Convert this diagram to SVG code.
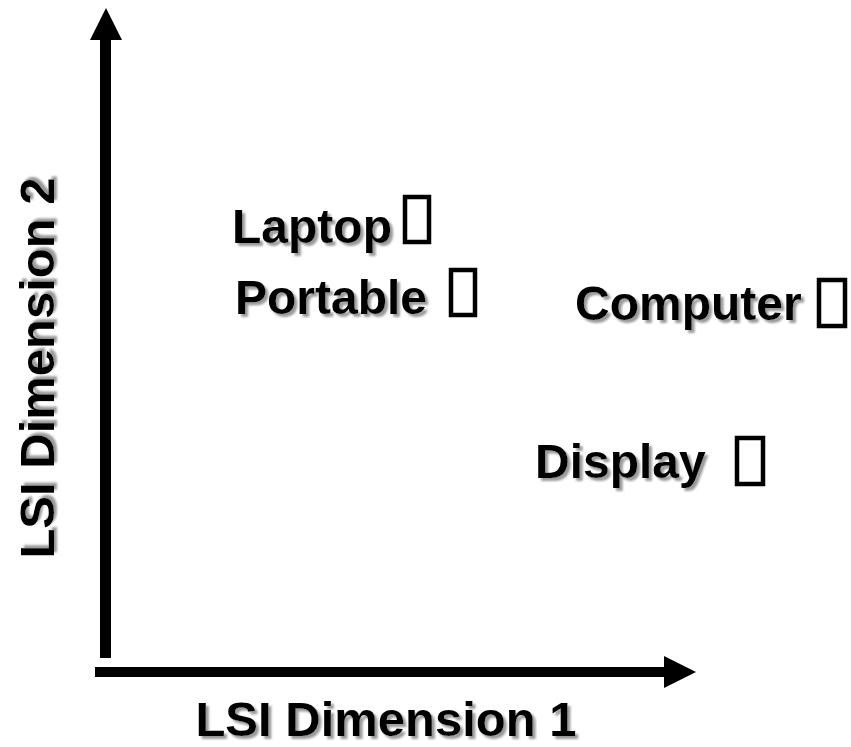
<svg xmlns="http://www.w3.org/2000/svg" width="851" height="747" viewBox="0 0 851 747">
  <defs>
    <filter id="shadow" x="-10%" y="-10%" width="130%" height="140%">
      <feGaussianBlur in="SourceAlpha" stdDeviation="0.8" result="b"/>
      <feOffset in="b" dx="2.5" dy="2.5" result="o"/>
      <feFlood flood-color="#9a9a9a"/>
      <feComposite in2="o" operator="in" result="s"/>
      <feMerge>
        <feMergeNode in="s"/>
        <feMergeNode in="SourceGraphic"/>
      </feMerge>
    </filter>
  </defs>
  <style>
    .lbl { font-family: "Liberation Sans", Arial, sans-serif; font-weight: bold; font-size: 48px; fill: #000; filter: url(#shadow); }
    .title { font-size: 49px; }
    .box { fill: none; stroke: #000; stroke-width: 4.5; }
    .axis { fill: #000; }
  </style>
  <rect width="851" height="747" fill="#fff"/>

  <!-- axes -->
  <g id="axes">
    <rect class="axis" x="100" y="38" width="11" height="620"/>
    <polygon class="axis" points="90,40 122,40 106,8"/>
    <rect class="axis" x="95" y="667" width="571" height="10"/>
    <polygon class="axis" points="664,656 664,688 696,672"/>
  </g>

  <!-- axis titles -->
  <g id="axis-x-title">
    <text class="lbl title" x="386" y="736" text-anchor="middle">LSI Dimension 1</text>
  </g>
  <g id="axis-y-title">
    <text class="lbl title" transform="translate(54,368) rotate(-90)" text-anchor="middle">LSI Dimension 2</text>
  </g>

  <!-- term points -->
  <g id="laptop">
    <text class="lbl" x="232" y="243">Laptop</text>
    <rect class="box" x="405" y="197" width="24" height="45"/>
  </g>
  <g id="portable">
    <text class="lbl" x="235" y="314">Portable</text>
    <rect class="box" x="451" y="270" width="24" height="45"/>
  </g>
  <g id="computer">
    <text class="lbl" x="575" y="320">Computer</text>
    <rect class="box" x="819" y="280" width="26" height="46"/>
  </g>
  <g id="display">
    <text class="lbl" x="535" y="478">Display</text>
    <rect class="box" x="737" y="438" width="26" height="46"/>
  </g>
</svg>
